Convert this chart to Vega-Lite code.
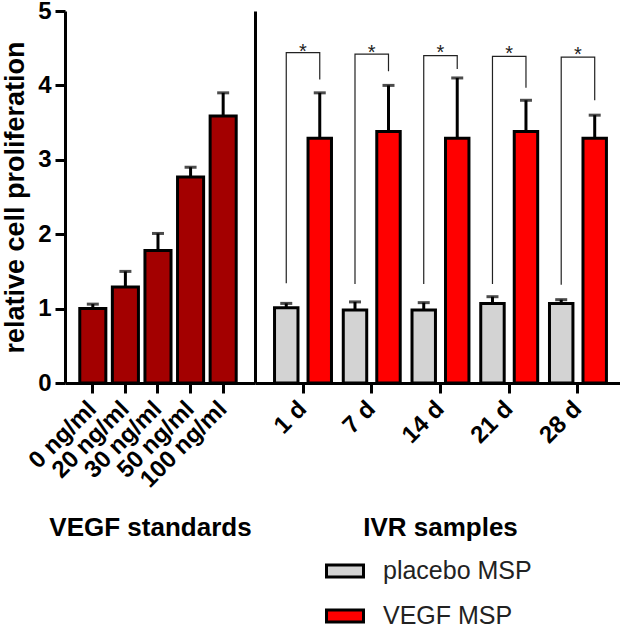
{
  "$schema": "https://vega.github.io/schema/vega-lite/v6.json",
  "padding": {"left": 1, "top": -1, "right": 0, "bottom": 0},
  "datasets": {
    "standards": [
      {"conc": "0 ng/ml", "mean": 1.0, "err": 1.06},
      {"conc": "20 ng/ml", "mean": 1.29, "err": 1.5},
      {"conc": "30 ng/ml", "mean": 1.78, "err": 2.01},
      {"conc": "50 ng/ml", "mean": 2.77, "err": 2.9},
      {"conc": "100 ng/ml", "mean": 3.59, "err": 3.9}
    ],
    "samples": [
      {"day": "1 d", "group": "placebo MSP", "mean": 1.01, "err": 1.07},
      {"day": "1 d", "group": "VEGF MSP", "mean": 3.29, "err": 3.9},
      {"day": "7 d", "group": "placebo MSP", "mean": 0.98, "err": 1.09},
      {"day": "7 d", "group": "VEGF MSP", "mean": 3.38, "err": 4.0},
      {"day": "14 d", "group": "placebo MSP", "mean": 0.98, "err": 1.08},
      {"day": "14 d", "group": "VEGF MSP", "mean": 3.29, "err": 4.1},
      {"day": "21 d", "group": "placebo MSP", "mean": 1.07, "err": 1.16},
      {"day": "21 d", "group": "VEGF MSP", "mean": 3.38, "err": 3.8},
      {"day": "28 d", "group": "placebo MSP", "mean": 1.07, "err": 1.12},
      {"day": "28 d", "group": "VEGF MSP", "mean": 3.29, "err": 3.6}
    ],
    "brackets": [
      {"day": "1 d", "group": "placebo MSP", "y": 1.34, "ord": 1},
      {"day": "1 d", "group": "placebo MSP", "y": 4.44, "ord": 2},
      {"day": "1 d", "group": "VEGF MSP", "y": 4.44, "ord": 3},
      {"day": "1 d", "group": "VEGF MSP", "y": 4.08, "ord": 4},
      {"day": "7 d", "group": "placebo MSP", "y": 1.33, "ord": 1},
      {"day": "7 d", "group": "placebo MSP", "y": 4.42, "ord": 2},
      {"day": "7 d", "group": "VEGF MSP", "y": 4.42, "ord": 3},
      {"day": "7 d", "group": "VEGF MSP", "y": 4.19, "ord": 4},
      {"day": "14 d", "group": "placebo MSP", "y": 1.33, "ord": 1},
      {"day": "14 d", "group": "placebo MSP", "y": 4.4, "ord": 2},
      {"day": "14 d", "group": "VEGF MSP", "y": 4.4, "ord": 3},
      {"day": "14 d", "group": "VEGF MSP", "y": 4.22, "ord": 4},
      {"day": "21 d", "group": "placebo MSP", "y": 1.33, "ord": 1},
      {"day": "21 d", "group": "placebo MSP", "y": 4.39, "ord": 2},
      {"day": "21 d", "group": "VEGF MSP", "y": 4.39, "ord": 3},
      {"day": "21 d", "group": "VEGF MSP", "y": 3.97, "ord": 4},
      {"day": "28 d", "group": "placebo MSP", "y": 1.32, "ord": 1},
      {"day": "28 d", "group": "placebo MSP", "y": 4.38, "ord": 2},
      {"day": "28 d", "group": "VEGF MSP", "y": 4.38, "ord": 3},
      {"day": "28 d", "group": "VEGF MSP", "y": 3.8, "ord": 4}
    ],
    "stars": [
      {"day": "1 d", "y": 4.53, "label": "*"},
      {"day": "7 d", "y": 4.52, "label": "*"},
      {"day": "14 d", "y": 4.51, "label": "*"},
      {"day": "21 d", "y": 4.5, "label": "*"},
      {"day": "28 d", "y": 4.49, "label": "*"}
    ]
  },
  "config": {
    "view": {"stroke": null},
    "concat": {"spacing": 0},
    "font": "Liberation Sans",
    "axis": {
      "domainColor": "black", "domainWidth": 3, "tickColor": "black", "tickWidth": 3,
      "labelColor": "black", "titleColor": "black", "labelFont": "Liberation Sans",
      "titleFont": "Liberation Sans", "labelFontWeight": "bold", "titleFontWeight": "bold", "grid": false
    }
  },
  "hconcat": [
    {
      "width": 190,
      "height": 372,
      "data": {"name": "standards"},
      "encoding": {
        "x": {
          "field": "conc", "type": "nominal", "sort": null,
          "scale": {"paddingInner": 0.2, "paddingOuter": 0.515, "align": 0.44},
          "axis": {
            "title": "VEGF standards", "labelAngle": -45, "labelFontSize": 24, "tickSize": 10,
            "labelPadding": 12, "labelBaseline": "middle", "titleFontSize": 26, "titleX": 85, "titleY": 144,
            "titleBaseline": "middle", "titleAlign": "center"
          }
        }
      },
      "layer": [
        {
          "mark": {"type": "rule", "strokeWidth": 3, "color": "black"},
          "encoding": {
            "y": {
              "field": "err", "type": "quantitative", "scale": {"domain": [0, 5]},
              "axis": {
                "title": "relative cell proliferation", "values": [0, 1, 2, 3, 4, 5], "format": "d",
                "labelFontSize": 24, "titleFontSize": 27, "tickSize": 10, "labelPadding": 4,
                "titlePadding": 8, "labelFlush": false
              }
            },
            "y2": {"field": "mean"}
          }
        },
        {
          "mark": {"type": "tick", "orient": "horizontal", "size": 12, "thickness": 3, "color": "black"},
          "encoding": {"y": {"field": "err", "type": "quantitative"}}
        },
        {
          "mark": {"type": "bar", "fill": "#a30000", "stroke": "black", "strokeWidth": 3},
          "encoding": {"y": {"field": "mean", "type": "quantitative"}}
        }
      ]
    },
    {
      "width": 365,
      "height": 372,
      "encoding": {
        "x": {
          "field": "day", "type": "nominal", "sort": ["1 d", "7 d", "14 d", "21 d", "28 d"],
          "scale": {"paddingInner": 0, "paddingOuter": 0.155, "align": 0.64},
          "axis": {
            "title": "IVR samples", "labelAngle": -45, "labelFontSize": 24, "tickSize": 10,
            "labelPadding": 12, "labelBaseline": "middle", "titleFontSize": 26, "titleX": 185, "titleY": 144,
            "titleBaseline": "middle", "titleAlign": "center"
          }
        }
      },
      "layer": [
        {
          "data": {"name": "brackets"},
          "mark": {"type": "line", "color": "#222", "strokeWidth": 1.2},
          "encoding": {
            "xOffset": {"field": "group", "type": "nominal", "sort": ["placebo MSP", "VEGF MSP"], "scale": {"paddingInner": 0.3, "paddingOuter": 0.176}},
            "y": {
              "field": "y", "type": "quantitative", "scale": {"domain": [0, 5]},
              "axis": {"title": null, "labels": false, "ticks": false, "domain": true}
            },
            "detail": {"field": "day"},
            "order": {"field": "ord", "type": "quantitative"}
          }
        },
        {
          "data": {"name": "stars"},
          "mark": {"type": "text", "fontSize": 20, "baseline": "middle", "dy": 6, "color": "#222"},
          "encoding": {
            "y": {"field": "y", "type": "quantitative"},
            "text": {"field": "label"}
          }
        },
        {
          "data": {"name": "samples"},
          "mark": {"type": "rule", "strokeWidth": 3, "color": "black"},
          "encoding": {
            "xOffset": {"field": "group", "type": "nominal", "sort": ["placebo MSP", "VEGF MSP"]},
            "y": {"field": "err", "type": "quantitative"},
            "y2": {"field": "mean"}
          }
        },
        {
          "data": {"name": "samples"},
          "mark": {"type": "tick", "orient": "horizontal", "size": 12, "thickness": 3, "color": "black"},
          "encoding": {
            "xOffset": {"field": "group", "type": "nominal", "sort": ["placebo MSP", "VEGF MSP"]},
            "y": {"field": "err", "type": "quantitative"}
          }
        },
        {
          "data": {"name": "samples"},
          "mark": {"type": "bar", "stroke": "black", "strokeWidth": 3},
          "encoding": {
            "xOffset": {"field": "group", "type": "nominal", "sort": ["placebo MSP", "VEGF MSP"]},
            "y": {"field": "mean", "type": "quantitative"},
            "color": {
              "field": "group", "type": "nominal",
              "scale": {"domain": ["placebo MSP", "VEGF MSP"], "range": ["#d3d3d3", "#ff0000"]},
              "legend": {
                "title": null, "orient": "none", "legendX": 260, "legendY": 540,
                "symbolType": "M-1,-0.33H1V0.33H-1Z", "symbolSize": 1369,
                "symbolStrokeColor": "black", "symbolStrokeWidth": 3,
                "labelFontSize": 25, "labelFont": "Liberation Sans", "labelColor": "#222",
                "labelOffset": 18, "rowPadding": 12
              }
            }
          }
        }
      ]
    }
  ]
}
